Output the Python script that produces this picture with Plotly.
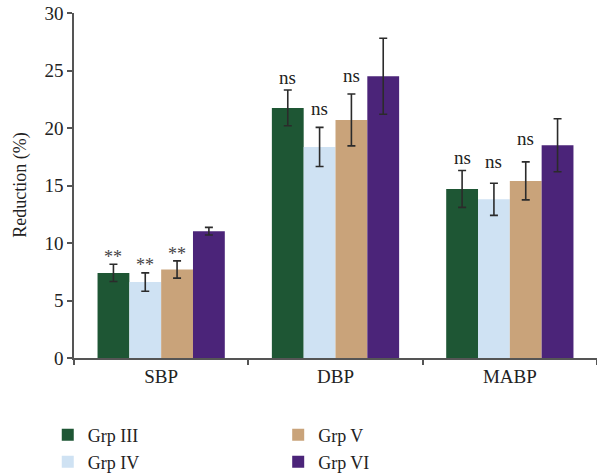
import plotly.graph_objects as go

categories = ["SBP", "DBP", "MABP"]
groups = ["Grp III", "Grp IV", "Grp V", "Grp VI"]
colors = ["#1e5634", "#cfe2f3", "#c9a37a", "#4b2479"]
values = {
    "Grp III": [7.4, 21.75, 14.7],
    "Grp IV": [6.6, 18.35, 13.8],
    "Grp V": [7.7, 20.7, 15.4],
    "Grp VI": [11.03, 24.5, 18.5],
}
errors = {
    "Grp III": [0.75, 1.55, 1.6],
    "Grp IV": [0.8, 1.7, 1.4],
    "Grp V": [0.75, 2.25, 1.65],
    "Grp VI": [0.33, 3.3, 2.3],
}
marks = {
    "Grp III": ["**", "ns", "ns"],
    "Grp IV": ["**", "ns", "ns"],
    "Grp V": ["**", "ns", "ns"],
    "Grp VI": ["", "", ""],
}
yticks = [0, 5, 10, 15, 20, 25, 30]
ytitle = "Reduction (%)"

# extra vertical offsets (pixels) of the significance labels, style only
mark_shift = {
    "Grp III": [-5, 0, 1],
    "Grp IV": [-4, 6, 9],
    "Grp V": [-5, 6, 11],
    "Grp VI": [0, 0, 0],
}

FONT = "Liberation Serif"
TXT = "#222"
bargap = 0.27
fig = go.Figure()
legend_names = ["legend", "legend2", "legend3", "legend4"]
for i, g in enumerate(groups):
    fig.add_trace(go.Bar(
        x=categories, y=values[g], name=g,
        marker=dict(color=colors[i], line=dict(width=0)),
        error_y=dict(type="data", array=errors[g], color="#2b2b2b", thickness=1.6, width=4),
        legend=legend_names[i],
    ))

w = (1 - bargap) / len(groups)
for i, g in enumerate(groups):
    off = (i - (len(groups) - 1) / 2) * w
    for j, c in enumerate(categories):
        t = marks[g][j]
        if not t:
            continue
        fig.add_annotation(
            x=j + off, y=values[g][j] + errors[g][j], xref="x", yref="y",
            text=t, showarrow=False, yanchor="bottom",
            yshift=mark_shift[g][j],
            font=dict(family=FONT, size=(18 if t == "**" else 19),
                      color=("#444" if t == "**" else "#222")),
        )

fig.add_annotation(
    text=ytitle, xref="paper", yref="paper", x=-0.103, y=0.5,
    xanchor="center", yanchor="middle", textangle=-90, showarrow=False,
    font=dict(family=FONT, size=18, color=TXT),
)

leg_common = dict(font=dict(family=FONT, size=18, color=TXT), bgcolor="rgba(0,0,0,0)",
                  xref="container", yref="container", xanchor="left", yanchor="middle",
                  itemwidth=30, tracegroupgap=0)
leg_pos = [(0.08, 1 - 435 / 473), (0.08, 1 - 462 / 473), (0.466, 1 - 435 / 473), (0.466, 1 - 462 / 473)]
layout_legs = {}
for name, (lx, ly) in zip(legend_names, leg_pos):
    layout_legs[name] = dict(leg_common, x=lx, y=ly)

fig.update_layout(
    width=597, height=473,
    margin=dict(l=74, r=0, t=13, b=115, autoexpand=False),
    paper_bgcolor="white", plot_bgcolor="white",
    barmode="group", bargap=bargap, bargroupgap=0,
    font=dict(family=FONT, size=18, color=TXT),
    showlegend=True,
    xaxis=dict(
        type="category", tickson="boundaries", ticks="outside", ticklen=5, tickwidth=1.5,
        tickcolor="#555", showline=True, linecolor="#555", linewidth=1.5,
        showgrid=False, tickfont=dict(family=FONT, size=19, color=TXT),
        range=[-0.5, 2.5], automargin=False,
    ),
    yaxis=dict(
        range=[0, 30], tickvals=yticks, ticks="outside", ticklen=5, tickwidth=1.5,
        tickcolor="#555", showline=True, linecolor="#555", linewidth=1.5,
        showgrid=False, zeroline=False, tickfont=dict(family=FONT, size=19, color=TXT),
        automargin=False,
    ),
    **layout_legs,
)

fig.write_html("out.html")
